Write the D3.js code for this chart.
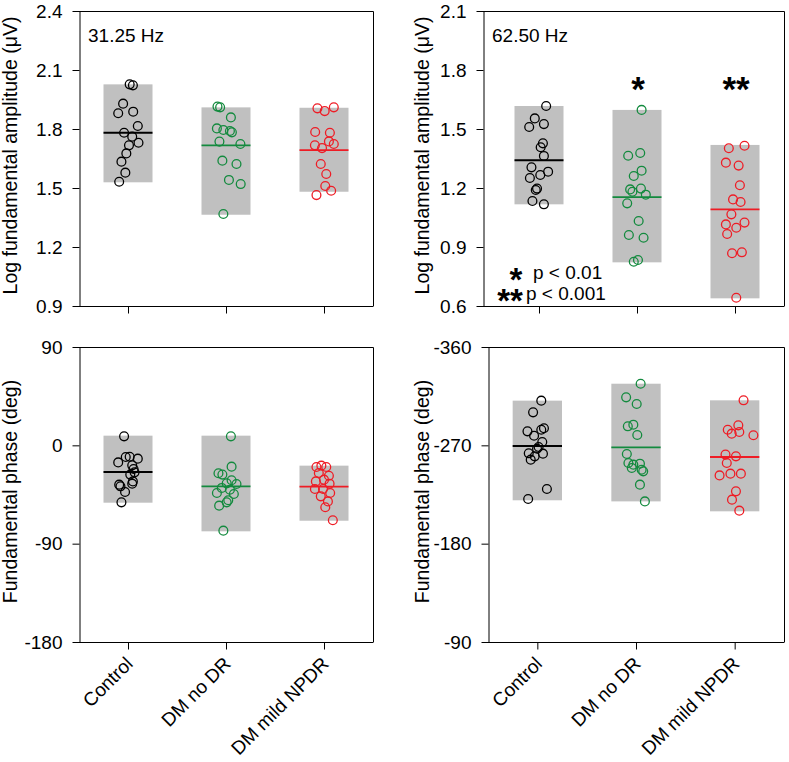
<!DOCTYPE html>
<html><head><meta charset="utf-8">
<script src="https://cdn.jsdelivr.net/npm/d3@7"></script>
<style>
body{margin:0;background:#fff}
svg{display:block}
text{font-family:Arial,"Liberation Sans",sans-serif;fill:#000}
</style>
</head><body>
<svg id="c" width="789" height="762"></svg>
<script>
const categories = ["Control", "DM no DR", "DM mild NPDR"];
const groupColors = ["#000000", "#138a3e", "#ee1c25"];

// ---- Panel A: 31.25 Hz log amplitude ----
const ampA_values = [
  [2.027,2.022,1.929,1.880,1.888,1.815,1.781,1.761,1.730,1.717,1.676,1.634,1.578,1.532],
  [1.914,1.910,1.859,1.803,1.795,1.790,1.783,1.736,1.724,1.639,1.622,1.541,1.520,1.368],
  [1.910,1.905,1.891,1.785,1.781,1.737,1.724,1.717,1.703,1.622,1.571,1.510,1.486,1.464]
];
const ampA_jitter = [
  [1.7,5,-5,-10,5.3,10,-4,4.3,10.7,1,-1.7,-6.7,-2.7,-9],
  [-8.7,-6,5,-9.3,-2.7,4,6,-6.7,14.7,-3.7,10.7,3,15,-2.7],
  [10,-6.7,0.7,-9,6,5,10,-9.3,-2,-3.3,2.3,1.3,7.3,-7.7]
];
const ampA_mean = [1.781, 1.717, 1.693];
const ampA_low = [1.529, 1.364, 1.481];
const ampA_high = [2.027, 1.910, 1.908];
const ampA_ticks = [0.9, 1.2, 1.5, 1.8, 2.1, 2.4];

// ---- Panel B: 62.50 Hz log amplitude ----
const ampB_values = [
  [1.617,1.554,1.510,1.525,1.427,1.407,1.363,1.305,1.283,1.266,1.251,1.197,1.190,1.134,1.117],
  [1.597,1.378,1.364,1.288,1.261,1.197,1.193,1.181,1.166,1.122,1.032,0.961,0.947,0.834,0.825],
  [1.415,1.402,1.329,1.314,1.214,1.142,1.129,1.066,1.024,1.015,0.998,0.966,0.873,0.868,0.642]
];
const ampB_jitter = [
  [7.3,-4.3,-10,5,4,1.7,5,-7.7,9.3,1.3,-9.3,-2,-3.3,-6.7,5],
  [4.7,3.3,-9,4.7,-3.3,4,-7,-4.7,9,-10,1.7,-8.3,6.7,1,-3.3],
  [9.7,-6.3,-9.3,3.7,5,-2,5.7,-3.7,9.7,-9.3,1.3,-8,7,-3,1.3]
];
const ampB_mean = [1.341, 1.154, 1.0915];
const ampB_low = [1.117, 0.822, 0.639];
const ampB_high = [1.617, 1.597, 1.419];
const ampB_ticks = [0.6, 0.9, 1.2, 1.5, 1.8, 2.1];
const ampB_sig = ["", "*", "**"];
const sigLegend = [["*", "p < 0.01"], ["**", "p < 0.001"]];

// ---- Panel C: 31.25 Hz phase ----
const phaseC_values = [
  [8.2,-10.4,-10.7,-12.2,-15.6,-18.3,-21.7,-24.7,-26.8,-33.0,-35.1,-36.0,-37.5,-42.7,-52.2],
  [8.2,-19.5,-25.6,-26.8,-32.0,-34.8,-35.4,-39.0,-40.6,-43.6,-44.5,-50.3,-52.2,-55.2,-78.1],
  [-18.6,-19.8,-19.8,-25.3,-27.8,-31.4,-33.0,-35.1,-40.0,-40.0,-43.6,-46.7,-51.3,-56.7,-68.6]
];
const phaseC_jitter = [
  [-4,1.7,-2.3,10,-10,4.3,5.7,6.7,2.3,5,4.3,-9,-7.7,-3,-6.7],
  [5,5.7,-7.7,-3.7,5.7,0.7,10.7,-4.3,4,-9.3,8,2.3,0.7,-7,-2.7],
  [-2.7,-7.7,2.3,-5.3,5,0,-8.3,5.7,-9.3,-1,6.3,-3.3,4,1.3,9]
];
const phaseC_mean = [-24.4, -37.5, -37.8];
const phaseC_low = [-52.5, -78.7, -69.0];
const phaseC_high = [8.85, 8.85, -18.6];
const phaseC_ticks = [90, 0, -90, -180];

// ---- Panel D: 62.50 Hz phase ----
const phaseD_values = [
  [-310.9,-300.2,-285.6,-284.3,-282.8,-278.8,-273.1,-268.5,-266.9,-262.7,-262.4,-259.9,-256.9,-230.0,-220.9],
  [-326.4,-313.9,-307.8,-288.9,-287.4,-279.5,-262.1,-253.8,-253.2,-252.3,-249.3,-247.7,-246.2,-234.0,-218.7],
  [-311.2,-288.3,-284.3,-282.2,-280.7,-279.2,-261.5,-259.9,-253.8,-244.1,-244.1,-242.5,-227.9,-220.3,-210.2]
];
const phaseD_jitter = [
  [4,-4.3,6.7,4,-10,-3.3,5,1.3,-0.3,-8.7,5.7,-2.7,-6.7,9.7,-9.3],
  [4.7,-10,0.7,-2.7,-8.3,1.3,-9.3,-7.7,4,-2.7,-4.3,5.7,7.3,4,9],
  [9,3.7,-7,4.7,-3,19,-9.3,1.3,-8,-4.3,6.3,-15.3,1.3,-2.7,4.7]
];
const phaseD_mean = [-269.4, -268.2, -259.3];
const phaseD_low = [-310.9, -326.4, -311.2];
const phaseD_high = [-219.7, -218.7, -209.6];
const phaseD_ticks = [-360, -270, -180, -90];

const svg = d3.select("#c");
const plainInt = d => String(d);

const panels = [
  {values: ampA_values, jitter: ampA_jitter, mean: ampA_mean, low: ampA_low, high: ampA_high,
   ticks: ampA_ticks, domain: [0.9, 2.4], fmt: d3.format(".1f"),
   axisX: 79, plot: [79, 373], top: 11, bottom: 306,
   title: "Log fundamental amplitude (\u03bcV)", titleX: 17, label: "31.25 Hz", catLabels: false},
  {values: ampB_values, jitter: ampB_jitter, mean: ampB_mean, low: ampB_low, high: ampB_high,
   ticks: ampB_ticks, domain: [0.6, 2.1], fmt: d3.format(".1f"),
   axisX: 483, plot: [490, 784], top: 11, bottom: 306,
   title: "Log fundamental amplitude (\u03bcV)", titleX: 429, label: "62.50 Hz", catLabels: false, sig: ampB_sig},
  {values: phaseC_values, jitter: phaseC_jitter, mean: phaseC_mean, low: phaseC_low, high: phaseC_high,
   ticks: phaseC_ticks, domain: [-180, 90], fmt: plainInt,
   axisX: 79, plot: [79, 373], top: 347, bottom: 642,
   title: "Fundamental phase (deg)", titleX: 17, catLabels: true},
  {values: phaseD_values, jitter: phaseD_jitter, mean: phaseD_mean, low: phaseD_low, high: phaseD_high,
   ticks: phaseD_ticks, domain: [-90, -360], fmt: plainInt,
   axisX: 488, plot: [488, 784], top: 347, bottom: 642,
   title: "Fundamental phase (deg)", titleX: 429, catLabels: true}
];

panels.forEach(p => {
  const x = d3.scalePoint().domain(categories).range([p.plot[0], p.plot[1]]).padding(0.5);
  const y = d3.scaleLinear().domain(p.domain).range([p.bottom, p.top]);
  const g = svg.append("g");
  const bw = x.step() * 0.5;

  // boxes (range of each group)
  categories.forEach((c, i) => {
    const y1 = y(p.high[i]), y2 = y(p.low[i]);
    g.append("rect")
      .attr("x", x(c) - bw / 2).attr("width", bw)
      .attr("y", Math.min(y1, y2)).attr("height", Math.abs(y2 - y1))
      .attr("fill", "#c0c0c0");
  });
  // mean lines
  categories.forEach((c, i) => {
    g.append("line")
      .attr("x1", x(c) - bw / 2).attr("x2", x(c) + bw / 2)
      .attr("y1", y(p.mean[i])).attr("y2", y(p.mean[i]))
      .attr("stroke", groupColors[i]).attr("stroke-width", 1.8);
  });
  // points
  categories.forEach((c, i) => {
    g.selectAll(null).data(p.values[i].map((v, k) => ({v, j: p.jitter[i][k]})))
      .join("circle")
      .attr("cx", d => x(c) + d.j / 100 * x.step())
      .attr("cy", d => y(d.v))
      .attr("r", 4.4)
      .attr("fill", "none")
      .attr("stroke", groupColors[i])
      .attr("stroke-width", 1.3);
  });

  // frame (top & right)
  g.append("path")
    .attr("d", `M${p.axisX},${p.top + 0.5}H${p.plot[1] + 0.5}V${p.bottom}`)
    .attr("fill", "none").attr("stroke", "#000").attr("stroke-width", 1);

  // y axis
  const ya = g.append("g").attr("transform", `translate(${p.axisX + 0.5},0)`)
    .call(d3.axisLeft(y).tickValues(p.ticks).tickFormat(p.fmt).tickSize(7).tickSizeOuter(0).tickPadding(10));
  ya.select(".domain").attr("stroke", "#000");
  ya.selectAll("text").attr("font-size", 19).attr("font-family", "Arial, 'Liberation Sans', sans-serif");

  // x axis
  const xa = g.append("g").attr("transform", `translate(0,${p.bottom + 0.5})`)
    .call(d3.axisBottom(x).tickSize(7).tickSizeOuter(0).tickFormat(""));
  xa.select(".domain").attr("d", `M${p.axisX},0H${p.plot[1] + 0.5}`);

  if (p.catLabels) {
    categories.forEach(c => {
      g.append("text")
        .attr("transform", `translate(${x(c) + 6},${p.bottom + 23}) rotate(-45)`)
        .attr("text-anchor", "end")
        .attr("font-size", 19)
        .text(c);
    });
  }

  // y title
  g.append("text")
    .attr("transform", `translate(${p.titleX},${(p.top + p.bottom) / 2 - 3}) rotate(-90)`)
    .attr("text-anchor", "middle")
    .attr("font-size", 19.5)
    .text(p.title);

  if (p.label) {
    g.append("text").attr("x", p.axisX + 9).attr("y", p.top + 30.5)
      .attr("font-size", 19).text(p.label);
  }

  if (p.sig) {
    categories.forEach((c, i) => {
      if (!p.sig[i]) return;
      g.append("text").attr("x", x(c) + 1).attr("y", 101)
        .attr("text-anchor", "middle").attr("font-size", 35).attr("font-weight", "bold")
        .text(p.sig[i]);
    });
    // legend: one text block, one line per significance level
    const leg = g.append("text");
    const starX = [516, 510], starY = [291, 312], labX = [533, 526], labY = [279, 300];
    sigLegend.forEach(([s, lab], k) => {
      leg.append("tspan").attr("x", starX[k]).attr("y", starY[k])
        .attr("text-anchor", "middle").attr("font-size", 33).attr("font-weight", "bold").text(s);
      leg.append("tspan").attr("x", labX[k]).attr("y", labY[k])
        .attr("text-anchor", "start").attr("font-size", 19).attr("font-weight", "normal").text(lab);
    });
  }
});
</script>
</body></html>
